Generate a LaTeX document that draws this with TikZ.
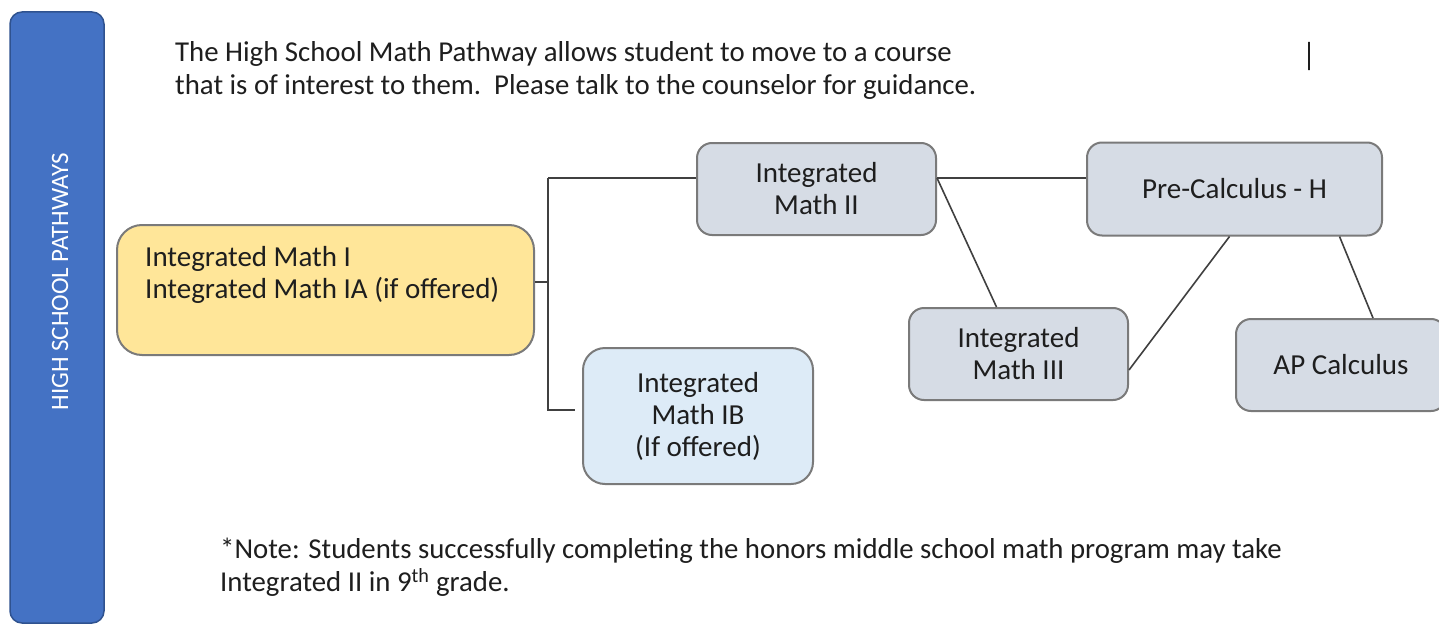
\documentclass[tikz,border=0pt]{standalone}
\usepackage{fontspec}
\setmainfont{Carlito}
\definecolor{barblue}{HTML}{4472C4}
\definecolor{barborder}{HTML}{2F528F}
\definecolor{yel}{HTML}{FFE699}
\definecolor{grayblue}{HTML}{D6DCE5}
\definecolor{lightblue}{HTML}{DDEBF7}
\definecolor{boxborder}{HTML}{7A7A7A}
\definecolor{txt}{HTML}{1E1E1E}
\definecolor{linec}{HTML}{404040}
\tikzset{
  box/.style={draw=boxborder, line width=2pt, rounded corners=15pt, align=center,
    font=\fontsize{29}{32}\selectfont, text=txt, inner sep=0pt},
  conn/.style={draw=linec, line width=1.6pt},
  plain/.style={font=\fontsize{28.8}{33}\selectfont, text=txt, align=left, inner sep=0pt}
}
\begin{document}
\begin{tikzpicture}[x=1pt,y=-1pt]
\useasboundingbox[fill=white] (0,0) rectangle (1439,626);
% side bar
\node[draw=barborder, fill=barblue, line width=1.5pt, rounded corners=12pt,
  minimum width=94pt, minimum height=611pt, inner sep=0pt] (bar) at (57,317.5) {};
\node[rotate=90, text=white, font=\fontsize{25}{28}\selectfont, inner sep=0pt] (bart) at (60,282) {HIGH SCHOOL PATHWAYS};
% intro text
\node[plain, anchor=north west] (intro) at (175,41) {The High School Math Pathway allows student to move to a course\\that is of interest to them.\ \ Please talk to the counselor for guidance.};
\node[draw=txt, line width=2.5pt, minimum height=28pt, inner sep=0pt, minimum width=0pt] (cursor) at (1309,56) {};
% boxes
\node[box, fill=yel, rounded corners=25pt, minimum width=417pt, minimum height=130pt] (m1) at (325.5,290) {};
\node[plain, font=\fontsize{29}{32}\selectfont, anchor=west] (m1t) at (145,275) {Integrated Math I\\Integrated Math IA (if offered)};
\node[box, fill=grayblue, minimum width=239pt, minimum height=92pt] (m2) at (816.5,189) {Integrated\\Math II};
\node[box, fill=lightblue, rounded corners=22pt, minimum width=230pt, minimum height=136pt] (mib) at (698,416) {Integrated\\Math IB\\(If offered)};
\node[box, fill=grayblue, minimum width=295pt, minimum height=93pt] (pc) at (1234.5,189) {Pre-Calculus - H};
\node[box, fill=grayblue, minimum width=219pt, minimum height=92pt] (m3) at (1018.5,354) {Integrated\\Math III};
\node[box, fill=grayblue, minimum width=210pt, minimum height=92pt] (ap) at (1341,365) {AP Calculus};
% note
\node[plain, anchor=north west] (note) at (220,538) {*Note: Students successfully completing the honors middle school math program may take\\Integrated II in 9\textsuperscript{th} grade.};
% connectors
\coordinate (jm) at (548,282);
\coordinate (jt) at (548,178);
\coordinate (jb) at (548,410);
\coordinate (ibend) at (575,410);
\draw[conn] ([yshift=8pt]m1.east) -- (jm);
\draw[conn] (jt) -- (jb) -- (ibend);
\draw[conn] (jt) -- (jt -| m2.west);
\draw[conn] ([yshift=11pt]m2.east) -- ([yshift=11pt]pc.west);
\draw[conn] ([yshift=11pt]m2.east) -- ([xshift=-22pt]m3.north);
\draw[conn] ([xshift=-5pt]pc.south) -- ([yshift=-16pt]m3.east);
\draw[conn] ([xshift=105pt]pc.south) -- ([xshift=32pt]ap.north);
\end{tikzpicture}
\end{document}
